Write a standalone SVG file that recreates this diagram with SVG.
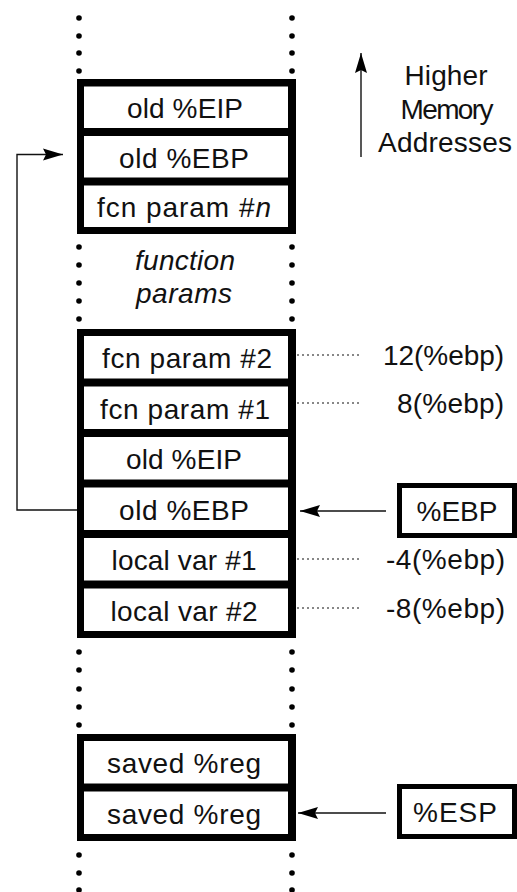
<svg xmlns="http://www.w3.org/2000/svg" width="517" height="892" viewBox="0 0 517 892">
  <style>
    .frame { fill: #000; }
    .cell { fill: #fff; }
    .t { font-family: "Liberation Sans", Arial, sans-serif; font-size: 28px; fill: #111; }
    .c { text-anchor: middle; }
    .r { text-anchor: end; }
    .it { font-style: italic; }
    .dot { fill: #000; }
    .wire { fill: none; stroke: #111; stroke-width: 1.4; }
    .lead { fill: none; stroke: #111; stroke-width: 1.2; stroke-dasharray: 2 3; }
    .reg { fill: #fff; stroke: #000; stroke-width: 5; }
  </style>
  <defs>
    <marker id="head" markerWidth="20" markerHeight="14" refX="20" refY="7" orient="auto" markerUnits="userSpaceOnUse">
      <path d="M0,1 L20,7 L0,13 L3,7 z" fill="#000"/>
    </marker>
    <g id="dotcol">
      <circle class="dot" cx="0" cy="0" r="2.8"/>
    </g>
  </defs>

  <rect width="517" height="892" fill="#fff"/>

  <!-- continuation dots along the stack edges -->
  <g id="dots">
    <use href="#dotcol" x="79" y="18"/><use href="#dotcol" x="79" y="36"/><use href="#dotcol" x="79" y="53"/><use href="#dotcol" x="79" y="71"/>
    <use href="#dotcol" x="292" y="18"/><use href="#dotcol" x="292" y="36"/><use href="#dotcol" x="292" y="53"/><use href="#dotcol" x="292" y="71"/>
    <use href="#dotcol" x="79" y="247"/><use href="#dotcol" x="79" y="265"/><use href="#dotcol" x="79" y="283"/><use href="#dotcol" x="79" y="301"/><use href="#dotcol" x="79" y="319"/>
    <use href="#dotcol" x="292" y="247"/><use href="#dotcol" x="292" y="265"/><use href="#dotcol" x="292" y="283"/><use href="#dotcol" x="292" y="301"/><use href="#dotcol" x="292" y="319"/>
    <use href="#dotcol" x="79" y="652"/><use href="#dotcol" x="79" y="670"/><use href="#dotcol" x="79" y="689"/><use href="#dotcol" x="79" y="707"/><use href="#dotcol" x="79" y="725"/>
    <use href="#dotcol" x="292" y="652"/><use href="#dotcol" x="292" y="670"/><use href="#dotcol" x="292" y="689"/><use href="#dotcol" x="292" y="707"/><use href="#dotcol" x="292" y="725"/>
    <use href="#dotcol" x="79" y="855"/><use href="#dotcol" x="79" y="873"/><use href="#dotcol" x="79" y="890"/>
    <use href="#dotcol" x="292" y="855"/><use href="#dotcol" x="292" y="873"/><use href="#dotcol" x="292" y="890"/>
  </g>

  <!-- caller frame -->
  <g id="frame-caller">
    <rect class="frame" x="77" y="79" width="219" height="155"/>
    <g id="c-old-eip-1"><rect class="cell" x="84" y="86.5" width="204" height="41.5"/>
      <text class="t c" x="185" y="118" textLength="116" lengthAdjust="spacing">old %EIP</text></g>
    <g id="c-old-ebp-1"><rect class="cell" x="84" y="136" width="204" height="41.5"/>
      <text class="t c" x="184" y="167.5" textLength="130" lengthAdjust="spacing">old %EBP</text></g>
    <g id="c-param-n"><rect class="cell" x="84" y="185.5" width="204" height="41.5"/>
      <text class="t c" x="184" y="217" textLength="174" lengthAdjust="spacing">fcn param #<tspan class="it">n</tspan></text></g>
  </g>

  <g id="fn-params">
    <text class="t c it" x="185" y="270" textLength="100" lengthAdjust="spacing">function</text>
    <text class="t c it" x="184" y="303" textLength="96" lengthAdjust="spacing">params</text>
  </g>

  <!-- current frame -->
  <g id="frame-current">
    <rect class="frame" x="77" y="329" width="219" height="309"/>
    <g id="c-param-2"><rect class="cell" x="84" y="336" width="204" height="42.5"/>
      <text class="t c" x="187" y="368" textLength="170" lengthAdjust="spacing">fcn param #2</text></g>
    <g id="c-param-1"><rect class="cell" x="84" y="386.5" width="204" height="42.5"/>
      <text class="t c" x="185" y="418.5" textLength="170" lengthAdjust="spacing">fcn param #1</text></g>
    <g id="c-old-eip-2"><rect class="cell" x="84" y="437" width="204" height="42.5"/>
      <text class="t c" x="184" y="469" textLength="116" lengthAdjust="spacing">old %EIP</text></g>
    <g id="c-old-ebp-2"><rect class="cell" x="84" y="487.5" width="204" height="42.5"/>
      <text class="t c" x="184" y="519.5" textLength="130" lengthAdjust="spacing">old %EBP</text></g>
    <g id="c-local-1"><rect class="cell" x="84" y="538" width="204" height="42.5"/>
      <text class="t c" x="184" y="570" textLength="145" lengthAdjust="spacing">local var #1</text></g>
    <g id="c-local-2"><rect class="cell" x="84" y="588.5" width="204" height="42.5"/>
      <text class="t c" x="184" y="620.5" textLength="147" lengthAdjust="spacing">local var #2</text></g>
  </g>

  <!-- saved registers -->
  <g id="frame-saved">
    <rect class="frame" x="77" y="734" width="219" height="107"/>
    <g id="c-saved-1"><rect class="cell" x="84" y="741" width="204" height="42.5"/>
      <text class="t c" x="184" y="773" textLength="154" lengthAdjust="spacing">saved %reg</text></g>
    <g id="c-saved-2"><rect class="cell" x="84" y="791.5" width="204" height="42.5"/>
      <text class="t c" x="184" y="823.5" textLength="154" lengthAdjust="spacing">saved %reg</text></g>
  </g>

  <!-- register boxes -->
  <g id="reg-ebp">
    <rect class="reg" x="399.5" y="485.5" width="115" height="50"/>
    <text class="t c" x="457" y="521" textLength="81" lengthAdjust="spacing">%EBP</text>
  </g>
  <g id="reg-esp">
    <rect class="reg" x="399.5" y="786.5" width="115" height="50"/>
    <text class="t c" x="455" y="822" textLength="84" lengthAdjust="spacing">%ESP</text>
  </g>

  <!-- offset labels -->
  <g id="offsets">
    <text class="t r" x="504" y="365" textLength="121" lengthAdjust="spacing">12(%ebp)</text>
    <text class="t r" x="504" y="413" textLength="107" lengthAdjust="spacing">8(%ebp)</text>
    <text class="t r" x="505" y="569" textLength="119" lengthAdjust="spacing">-4(%ebp)</text>
    <text class="t r" x="505" y="618" textLength="119" lengthAdjust="spacing">-8(%ebp)</text>
  </g>

  <g id="legend">
    <text class="t c" x="446" y="85" textLength="83" lengthAdjust="spacing">Higher</text>
    <text class="t c" x="447" y="119" textLength="93" lengthAdjust="spacing">Memory</text>
    <text class="t c" x="445" y="152" textLength="134" lengthAdjust="spacing">Addresses</text>
  </g>

  <!-- connectors -->
  <g id="connectors">
    <line class="wire" x1="361" y1="157" x2="361" y2="53" marker-end="url(#head)"/>
    <path class="wire" d="M77,510 H17 V154.5 H63" marker-end="url(#head)"/>
    <line class="wire" x1="386" y1="511" x2="300" y2="511" marker-end="url(#head)"/>
    <line class="wire" x1="386" y1="813" x2="298" y2="813" marker-end="url(#head)"/>
    <line class="lead" x1="297" y1="355" x2="362" y2="355"/>
    <line class="lead" x1="297" y1="403" x2="362" y2="403"/>
    <line class="lead" x1="297" y1="559" x2="362" y2="559"/>
    <line class="lead" x1="297" y1="608" x2="362" y2="608"/>
  </g>
</svg>
